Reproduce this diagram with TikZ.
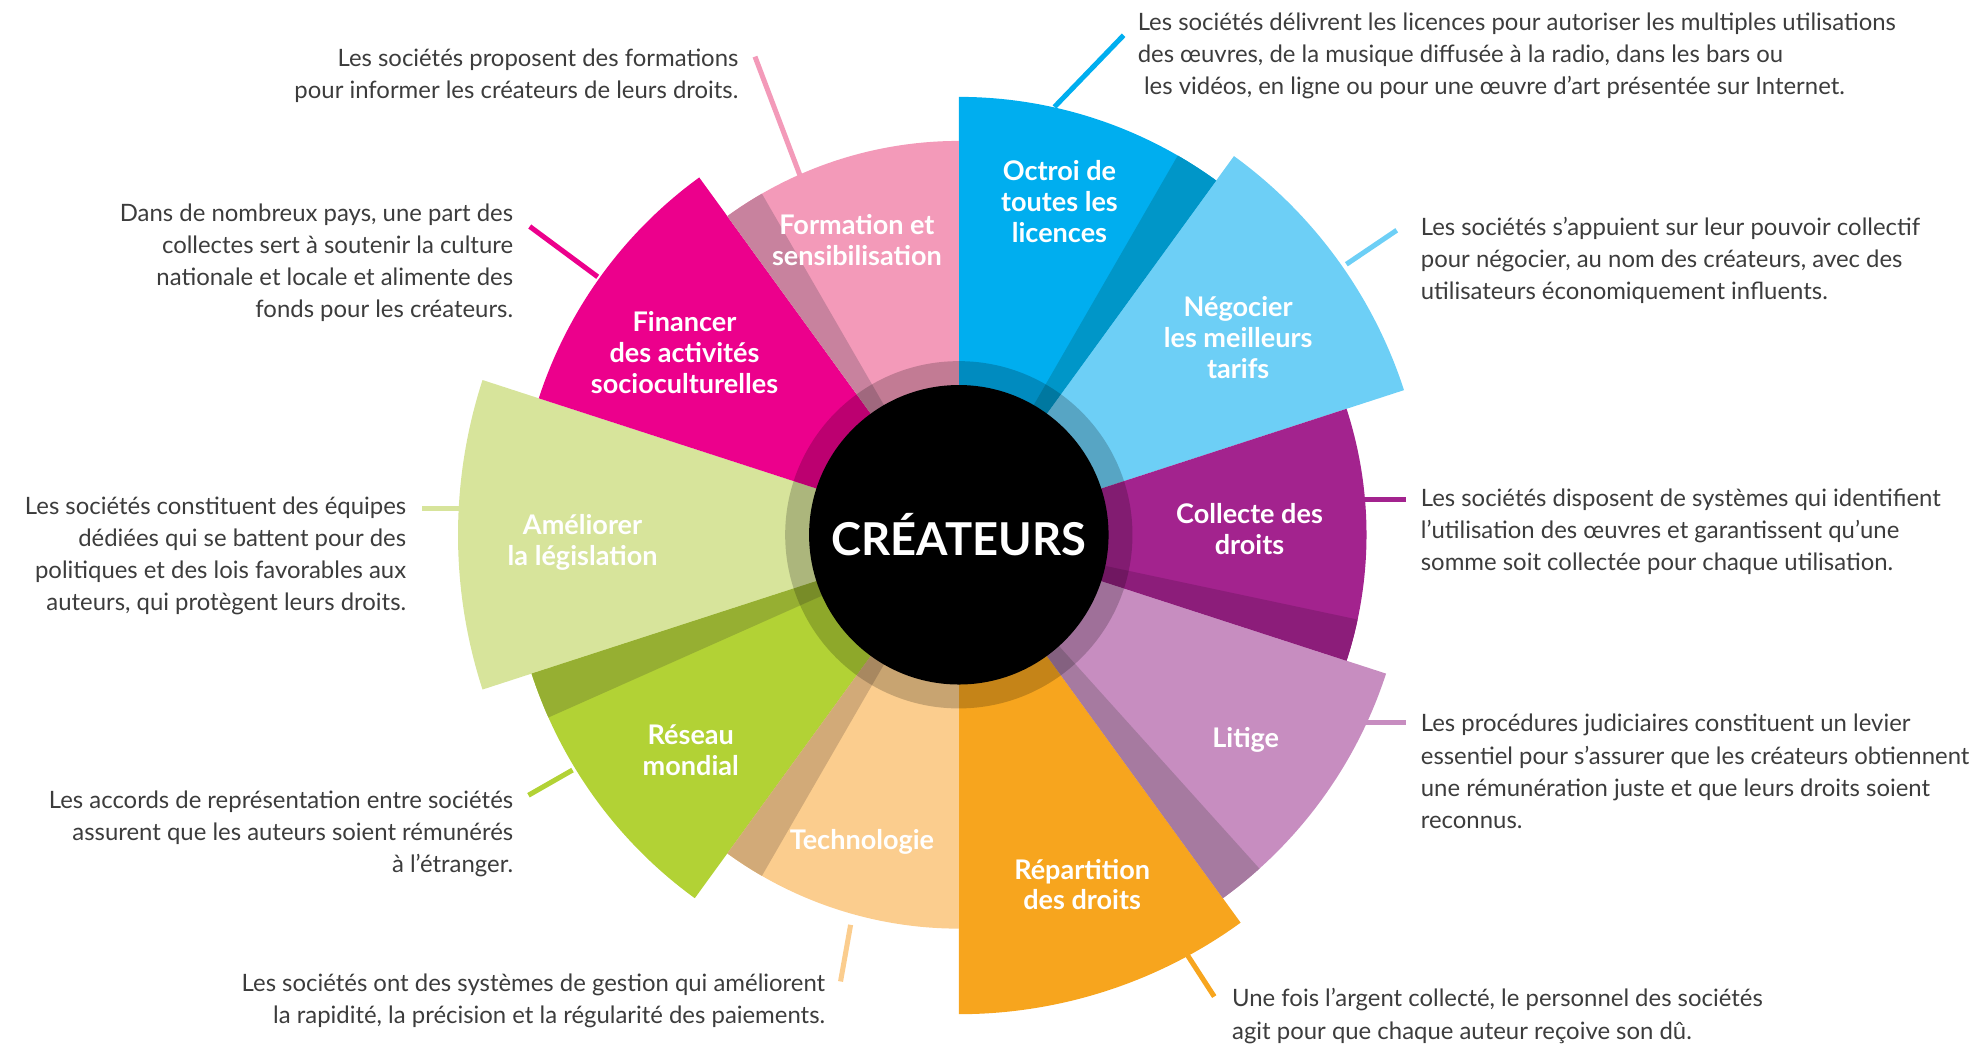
\documentclass[tikz,border=0pt]{standalone}
\usepackage{fontspec}
\setmainfont{Lato}
\usetikzlibrary{calc}
\definecolor{txt}{RGB}{60,60,60}
\definecolor{cOct}{HTML}{00AEEF}
\definecolor{sOct}{HTML}{0096C8}
\definecolor{cNeg}{HTML}{6DCFF6}
\definecolor{cCol}{HTML}{A3238E}
\definecolor{sCol}{HTML}{8C1D7A}
\definecolor{cLit}{HTML}{C78DC0}
\definecolor{sLit}{HTML}{A67AA0}
\definecolor{cRep}{HTML}{F7A51E}
\definecolor{cTec}{HTML}{FBCD8E}
\definecolor{sTec}{HTML}{D2AA78}
\definecolor{cRes}{HTML}{B2D235}
\definecolor{sRes}{HTML}{96AF32}
\definecolor{cAme}{HTML}{D7E49B}
\definecolor{cFin}{HTML}{EC008C}
\definecolor{cFor}{HTML}{F39AB9}
\definecolor{sFor}{HTML}{C8829E}
\newcommand\mywedge[4]{\fill[#1] (C) -- ($(C)+(#2:#4pt)$) arc[start angle=#2,end angle=#3,radius=#4pt] -- cycle;}
\tikzset{
  body/.style={inner sep=0pt, text=txt, font=\fontsize{19}{25.5}\selectfont},
  bodyL/.style={body, anchor=west, align=left},
  bodyR/.style={body, anchor=east, align=right},
  lbl/.style={inner sep=0pt, text=white, align=center, font=\bfseries\fontsize{21.5}{24.5}\selectfont},
  leader/.style={line width=4pt}
}
\begin{document}
\begin{tikzpicture}[x=1pt,y=1pt]
\useasboundingbox (0,0) rectangle (1568,-829.6);
\coordinate (C) at (762,-425);
% sectors
\mywedge{cOct}{90}{54}{348}
\mywedge{cNeg}{54}{18}{372}
\mywedge{cCol}{18}{-18}{324}
\mywedge{cLit}{-18}{-54}{357}
\mywedge{cRep}{-54}{-90}{381}
\mywedge{cTec}{-90}{-126}{313}
\mywedge{cRes}{-126}{-162}{357}
\mywedge{cAme}{-162}{-198}{398}
\mywedge{cFin}{162}{126}{351}
\mywedge{cFor}{126}{90}{313}
% shadows
\mywedge{sOct}{60}{54}{348}
\mywedge{sCol}{-12}{-18}{324}
\mywedge{sLit}{-48}{-54}{357}
\mywedge{sTec}{-120}{-126}{313}
\mywedge{sRes}{-156}{-162}{357}
\mywedge{sFor}{126}{120}{313}
% ring and centre
\fill[black, opacity=0.2] (C) circle[radius=138pt];
\node[circle, fill=black, inner sep=0pt, minimum size=238pt, text=white,
  font=\bfseries\fontsize{36}{40}\selectfont] (centre) at (C) {CRÉATEURS};
% sector labels
\node[lbl] (lFor) at (681,-191) {Formation et\\sensibilisation};
\node[lbl] (lOct) at (842,-160) {Octroi de\\toutes les\\licences};
\node[lbl] (lNeg) at (984,-268.5) {Négocier\\les meilleurs\\tarifs};
\node[lbl] (lCol) at (993,-420.5) {Collecte des\\droits};
\node[lbl] (lLit) at (990,-588) {Litige};
\node[lbl] (lRep) at (860,-703) {Répartition\\des droits};
\node[lbl] (lTec) at (685,-669) {Technologie};
\node[lbl] (lRes) at (549,-596) {Réseau\\mondial};
\node[lbl] (lAme) at (463,-431) {Améliorer\\la législation};
\node[lbl] (lFin) at (544,-280) {Financer\\des activités\\socioculturelles};
% leader lines
\coordinate (aFor) at (636,-140); \coordinate (bFor) at (600,-45);
\coordinate (aOct) at (838,-85);  \coordinate (bOct) at (893,-28);
\coordinate (aNeg) at (1070,-210); \coordinate (bNeg) at (1110,-183);
\coordinate (aCol) at (1084,-397); \coordinate (bCol) at (1117,-397);
\coordinate (aLit) at (1084,-574); \coordinate (bLit) at (1117,-574);
\coordinate (aRep) at (943,-758); \coordinate (bRep) at (965,-792);
\coordinate (aTec) at (676,-735); \coordinate (bTec) at (668,-780);
\coordinate (aRes) at (455,-612); \coordinate (bRes) at (420,-632);
\coordinate (aAme) at (367,-404); \coordinate (bAme) at (335,-404);
\coordinate (aFin) at (475,-220); \coordinate (bFin) at (421,-180);
\draw[leader, cFor] (aFor) -- (bFor);
\draw[leader, cOct] (aOct) -- (bOct);
\draw[leader, cNeg] (aNeg) -- (bNeg);
\draw[leader, cCol] (aCol) -- (bCol);
\draw[leader, cLit] (aLit) -- (bLit);
\draw[leader, cRep] (aRep) -- (bRep);
\draw[leader, cTec] (aTec) -- (bTec);
\draw[leader, cRes] (aRes) -- (bRes);
\draw[leader, cAme] (aAme) -- (bAme);
\draw[leader, cFin] (aFin) -- (bFin);
% descriptions
\node[bodyR] (tFor) at (587,-60) {Les sociétés proposent des formations\\pour informer les créateurs de leurs droits.};
\node[bodyL] (tOct) at (904,-44.5) {Les sociétés délivrent les licences pour autoriser les multiples utilisations\\des œuvres, de la musique diffusée à la radio, dans les bars ou\\\hspace{5pt}les vidéos, en ligne ou pour une œuvre d’art présentée sur Internet.};
\node[bodyL] (tNeg) at (1129,-207) {Les sociétés s’appuient sur leur pouvoir collectif\\pour négocier, au nom des créateurs, avec des\\utilisateurs économiquement influents.};
\node[bodyL] (tCol) at (1129,-422.5) {Les sociétés disposent de systèmes qui identifient\\l’utilisation des œuvres et garantissent qu’une\\somme soit collectée pour chaque utilisation.};
\node[bodyL] (tLit) at (1129,-613) {Les procédures judiciaires constituent un levier\\essentiel pour s’assurer que les créateurs obtiennent\\une rémunération juste et que leurs droits soient\\reconnus.};
\node[bodyL] (tRep) at (979,-807.5) {Une fois l’argent collecté, le personnel des sociétés\\agit pour que chaque auteur reçoive son dû.};
\node[bodyR] (tTec) at (656,-795.5) {Les sociétés ont des systèmes de gestion qui améliorent\\la rapidité, la précision et la régularité des paiements.};
\node[bodyR] (tRes) at (408,-663) {Les accords de représentation entre sociétés\\assurent que les auteurs soient rémunérés\\à l’étranger.};
\node[bodyR] (tAme) at (323,-442) {Les sociétés constituent des équipes\\dédiées qui se battent pour des\\politiques et des lois favorables aux\\auteurs, qui protègent leurs droits.};
\node[bodyR] (tFin) at (408,-209) {Dans de nombreux pays, une part des\\collectes sert à soutenir la culture\\nationale et locale et alimente des\\fonds pour les créateurs.};
\end{tikzpicture}
\end{document}
